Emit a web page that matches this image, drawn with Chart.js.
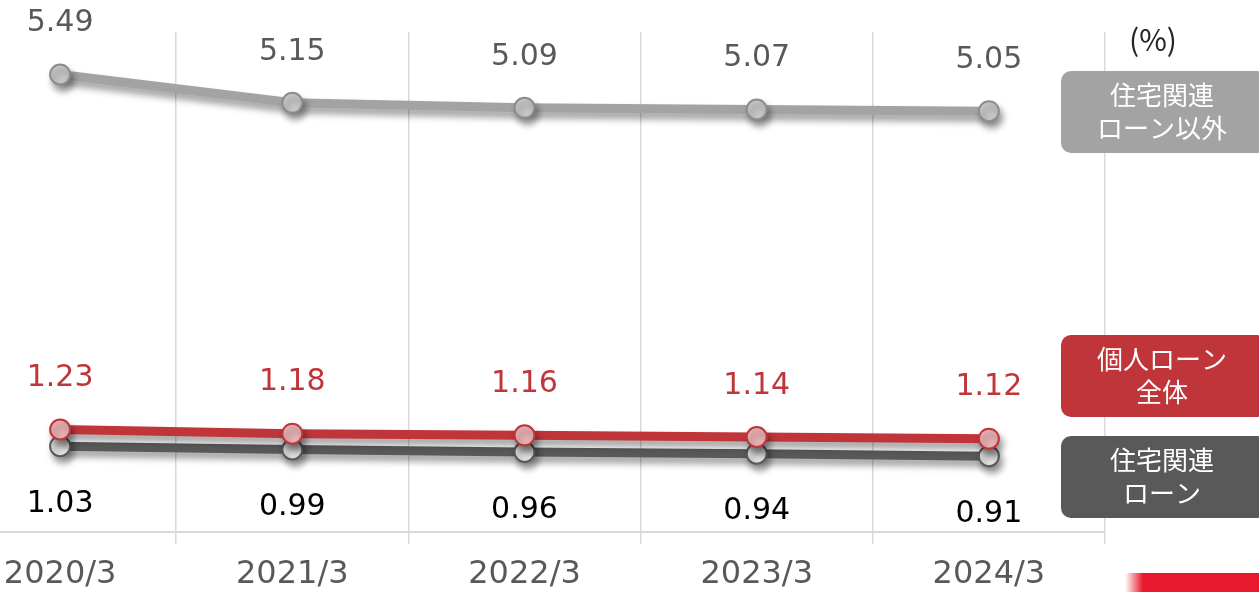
<!DOCTYPE html>
<html lang="ja">
<head>
<meta charset="utf-8">
<title>ローン比率</title>
<script src="https://cdn.jsdelivr.net/npm/chart.js@4.4.1/dist/chart.umd.min.js"></script>
<style>
  html, body { margin: 0; padding: 0; background: #fff; overflow: hidden; }
  body { width: 1259px; height: 592px; position: relative; }
  #wrap { position: absolute; left: -100px; top: 0; width: 1359px; height: 592px; }
  #corner {
    position: absolute; left: 1125px; top: 573px; width: 134px; height: 19px;
    background: linear-gradient(90deg, rgba(232,25,44,0) 0, #e8192c 18px);
  }
</style>
</head>
<body>
<div id="wrap"><canvas id="chart"></canvas></div>
<div id="corner"></div>
<script>
/* ---------- Daten ---------- */
const CATEGORIES = ["2020/3", "2021/3", "2022/3", "2023/3", "2024/3"];
const NON_HOUSING = [5.49, 5.15, 5.09, 5.07, 5.05];   // 住宅関連ローン以外
const PERSONAL_ALL = [1.23, 1.18, 1.16, 1.14, 1.12];  // 個人ローン全体
const HOUSING = [1.03, 0.99, 0.96, 0.94, 0.91];       // 住宅関連ローン
const UNIT_LABEL = "(%)";
const LEGEND_TEXT = [
  ["住宅関連", "ローン以外"],
  ["個人ローン", "全体"],
  ["住宅関連", "ローン"],
];

const SHIFT = 100; // canvas liegt 100px links außerhalb
const NUM_FONT = "'DejaVu Sans', Verdana, sans-serif";
const JP_FONT = "'Noto Sans CJK JP', 'Noto Sans', sans-serif";

const GRAY = "#a3a3a3";
const RED = "#c0353a";
const DARK = "#595959";

/* ---------- Plugins ---------- */
// weicher Schatten unter Linien und Punkten
const shadowPlugin = {
  id: "shadow",
  beforeDatasetDraw(chart) {
    const ctx = chart.ctx;
    ctx.save();
    ctx.shadowColor = "rgba(0,0,0,0.38)";
    ctx.shadowBlur = 7;
    ctx.shadowOffsetX = 3;
    ctx.shadowOffsetY = 6;
  },
  afterDatasetDraw(chart) {
    chart.ctx.restore();
  },
};

// Wertbeschriftungen über / unter den Punkten
const valueLabels = {
  id: "valueLabels",
  afterDatasetsDraw(chart) {
    const ctx = chart.ctx;
    ctx.save();
    ctx.font = "30px " + NUM_FONT;
    ctx.textAlign = "center";
    ctx.textBaseline = "middle";
    chart.data.datasets.forEach((ds, i) => {
      const meta = chart.getDatasetMeta(i);
      ctx.fillStyle = ds.labelColor;
      meta.data.forEach((pt, j) => {
        ctx.fillText(ds.data[j].toFixed(2), pt.x, pt.y + ds.labelOffset);
      });
    });
    ctx.restore();
  },
};

// Legendenkästen rechts + Einheit
const sideLegend = {
  id: "sideLegend",
  afterDraw(chart) {
    const ctx = chart.ctx;
    const boxes = [
      { top: 71, fill: GRAY },
      { top: 335, fill: RED },
      { top: 436, fill: DARK },
    ];
    ctx.save();
    boxes.forEach((b, i) => {
      const x = 1061 + SHIFT, w = 206, h = 82;
      ctx.fillStyle = b.fill;
      ctx.beginPath();
      ctx.roundRect(x, b.top, w, h, 10);
      ctx.fill();
      ctx.fillStyle = "#fff";
      ctx.font = "26px " + JP_FONT;
      ctx.textAlign = "center";
      ctx.textBaseline = "middle";
      const lines = LEGEND_TEXT[i];
      lines.forEach((t, k) => {
        ctx.fillText(t, 1162 + SHIFT, b.top + h / 2 + (k - (lines.length - 1) / 2) * 33);
      });
    });
    ctx.fillStyle = "#262626";
    ctx.font = "30px " + JP_FONT;
    ctx.textAlign = "center";
    ctx.textBaseline = "middle";
    ctx.fillText(UNIT_LABEL, 1153 + SHIFT, 40);
    ctx.restore();
  },
};

/* ---------- Chart ---------- */
new Chart(document.getElementById("chart"), {
  type: "line",
  data: {
    labels: CATEGORIES,
    datasets: [
      {
        label: "住宅関連ローン以外",
        data: NON_HOUSING,
        borderColor: GRAY,
        backgroundColor: "#c8c8c8",
        pointBackgroundColor: "#c8c8c8",
        pointBorderColor: "#8c8c8c",
        labelColor: "#595959",
        labelOffset: -51,
        order: 2,
      },
      {
        label: "住宅関連ローン",
        data: HOUSING,
        borderColor: DARK,
        backgroundColor: "#e2e2e2",
        pointBackgroundColor: "#e2e2e2",
        pointBorderColor: "#595959",
        labelColor: "#000",
        labelOffset: 58,
        order: 1,
      },
      {
        label: "個人ローン全体",
        data: PERSONAL_ALL,
        borderColor: RED,
        backgroundColor: "#e8b1b3",
        pointBackgroundColor: "#e8b1b3",
        pointBorderColor: RED,
        labelColor: RED,
        labelOffset: -51,
        order: 0,
      },
    ],
  },
  options: {
    responsive: true,
    maintainAspectRatio: false,
    animation: false,
    layout: { padding: { left: 44, right: 154, top: 32, bottom: 0 } },
    elements: {
      line: { borderWidth: 9, tension: 0, fill: false, borderCapStyle: "round" },
      point: { radius: 10, borderWidth: 2, hoverRadius: 10 },
    },
    plugins: {
      legend: { display: false },
      tooltip: { enabled: false },
    },
    scales: {
      x: {
        offset: true,
        afterFit: (s) => { s.height = 60; },
        grid: {
          offset: true,
          color: "#d9d9d9",
          lineWidth: 1.5,
          tickLength: 12,
        },
        border: { color: "#d9d9d9", width: 2 },
        ticks: {
          color: "#595959",
          padding: 11,
          maxRotation: 0,
          font: { size: 32, family: NUM_FONT },
        },
      },
      y: {
        display: false,
        min: 0,
        max: 6,
      },
    },
  },
  plugins: [shadowPlugin, valueLabels, sideLegend],
});
</script>
</body>
</html>
